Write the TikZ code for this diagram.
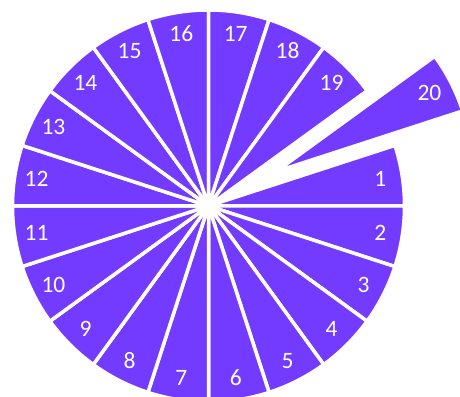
\documentclass[tikz,border=0pt]{standalone}
\usepackage{fontspec}
\setmainfont{Carlito}
\usepackage{tikz}
\definecolor{piepurple}{RGB}{115,58,255}

\begin{document}
\begin{tikzpicture}[x=1pt, y=1pt,
  slice/.style={fill=piepurple, draw=white, line width=3.5pt},
  lbl/.style={text=white, font=\fontsize{23.5}{28}\selectfont}
]
\useasboundingbox (0,0) rectangle (460,396);
\clip (0,0) rectangle (460,396);
\coordinate (c) at (208.5,190);

% slices 1..19, clockwise from 18 deg
\foreach \i in {1,...,19} {
  \pgfmathsetmacro\s{36-18*\i}
  \pgfmathsetmacro\e{18-18*\i}
  \pgfmathsetmacro\m{27-18*\i}
  \draw[slice] (c) -- ++(\s:196) arc[start angle=\s, end angle=\e, radius=196] -- cycle;
  \path (c) ++(\m:174) node[lbl] (l\i) {\i};
}

% slice 20, pulled out
\path (c) ++(27:76) coordinate (c20);
\draw[slice] (c20) -- ++(36:196) arc[start angle=36, end angle=18, radius=196] -- cycle;
\path (c20) ++(27:172) node[lbl] (l20) {20};
\end{tikzpicture}
\end{document}
